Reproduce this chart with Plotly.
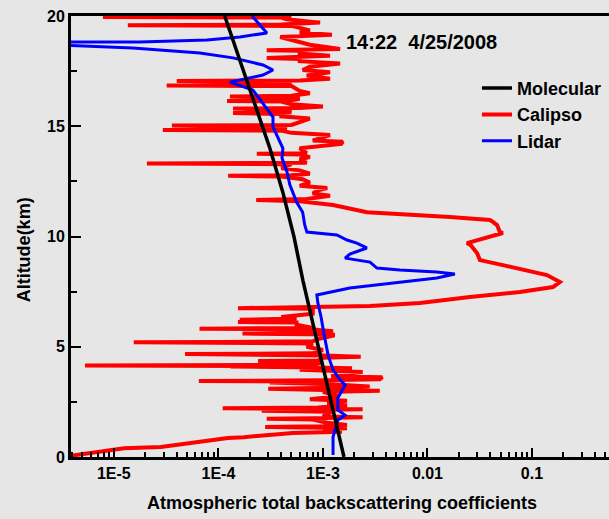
import plotly.graph_objects as go

# ---------------- data ----------------
# Molecular backscatter (km, coefficient)
mol_alt = [0, 2, 4, 6, 8, 10, 12, 14, 16, 18, 20]
mol_val = [1.59e-3, 1.27e-3, 1.02e-3, 8.2e-4, 6.44e-4, 5.28e-4, 4.14e-4, 3.11e-4, 2.24e-4, 1.61e-4, 1.15e-4]

# Lidar
lid_alt = [0.09, 0.91, 1.68, 1.9, 2.13, 2.68, 3.27, 3.5, 3.95, 4.63, 5.62, 6.35, 6.98, 7.35,
           7.66, 7.94, 8.12, 8.3, 8.39, 8.48, 8.57, 8.84, 9.02, 9.2, 9.48, 9.7, 9.84, 10.07,
           10.2, 10.52, 11.1, 11.56, 12.34, 12.93, 13.56, 14.0, 14.29, 14.97, 15.42, 16.05,
           16.64, 17.0, 17.32, 17.55, 17.78, 18.1, 18.32, 18.55, 18.68, 18.82, 18.82, 18.91,
           19.05, 19.23, 20.0]
lid_val = [1.25e-3, 1.25e-3, 1.39e-3, 1.63e-3, 1.39e-3, 1.39e-3, 1.63e-3, 1.46e-3, 1.25e-3,
           1.12e-3, 1.02e-3, 9.6e-4, 8.95e-4, 8.75e-4,
           1.81e-3, 5.45e-3, 1.23e-2, 1.83e-2, 1.23e-2, 5.45e-3, 3.29e-3, 2.82e-3, 1.63e-3,
           1.81e-3, 2.63e-3, 2.11e-3, 1.70e-3, 1.36e-3,
           7.03e-4, 6.7e-4, 6.4e-4, 5.6e-4, 4.83e-4, 4.53e-4, 4.06e-4, 4.14e-4, 3.88e-4,
           3.33e-4, 3.33e-4, 2.67e-4, 2.14e-4, 1.29e-4, 2.67e-4, 3.33e-4, 2.67e-4, 1.38e-4,
           6.65e-5, 1.52e-5, 3.0e-6, 3.0e-6, 1.77e-5, 7.76e-5, 1.61e-4, 2.91e-4, 2.1e-4]

# Calipso (altitude km, coefficient)
cal_alt = [
    0.05, 0.2, 0.4, 0.45, 0.63, 0.77, 0.86, 0.9, 0.99, 1.09, 1.15,
    1.25, 1.30, 1.33, 1.36, 1.39, 1.45, 1.55, 1.70, 1.73, 1.76, 1.80, 1.84,
    2.05, 2.10, 2.13, 2.16, 2.19, 2.21, 2.24, 2.35, 2.45, 2.55, 2.62, 2.75,
    2.95, 3.00, 3.03, 3.05, 3.10, 3.13, 3.20, 3.30, 3.38, 3.42, 3.45, 3.48,
    3.52, 3.62, 3.66, 3.75, 3.85, 3.92, 3.96, 4.02, 4.06, 4.10, 4.12, 4.15,
    4.18, 4.30, 4.35, 4.38, 4.50, 4.55, 4.60, 4.67, 4.70, 4.85, 5.00, 5.15,
    5.19, 5.20, 5.22, 5.25, 5.35, 5.50, 5.55, 5.60, 5.63, 5.70, 5.78, 5.82,
    5.85, 6.00, 6.10, 6.12, 6.17, 6.22, 6.28, 6.35, 6.50, 6.72, 6.75, 6.80,
    6.85, 6.98, 7.26, 7.48, 7.71, 7.94, 8.25, 8.70, 8.93, 9.25, 9.60, 9.70,
    9.93, 10.16, 10.20, 10.52, 10.66, 10.75, 10.88, 10.93, 10.97, 11.10, 11.43,
    11.56, 11.60, 11.65, 11.70, 11.85, 11.95, 12.10, 12.20, 12.30, 12.45, 12.60,
    12.72, 12.75, 12.78, 12.85, 13.00, 13.10, 13.28, 13.31, 13.34, 13.50, 13.60,
    13.72, 13.75, 13.78, 13.85, 14.00, 14.20, 14.30, 14.35, 14.50, 14.60, 14.70,
    14.80, 14.83, 14.86, 14.95, 15.03, 15.06, 15.20, 15.35, 15.45, 15.55, 15.60,
    15.63, 15.75, 15.80, 15.83, 15.90, 16.00, 16.12, 16.15, 16.18, 16.25, 16.32,
    16.35, 16.38, 16.50, 16.60, 16.82, 16.85, 16.88, 16.98, 17.05, 17.08, 17.15,
    17.30, 17.45, 17.55, 17.70, 17.85, 17.95, 18.05, 18.10, 18.13, 18.20, 18.30,
    18.42, 18.45, 18.48, 18.50, 18.70, 18.90, 19.05, 19.15, 19.25, 19.35, 19.55,
    19.58, 19.61, 19.70, 19.85, 19.93, 19.96, 19.99, 20.0]
cal_val = [
    3.8e-6, 6.0e-6, 1.25e-5, 2.82e-5, 5.46e-5, 8.47e-5, 1.23e-4, 1.75e-4, 2.72e-4, 5.16e-4, 1.52e-3,
    1.0e-3, 1.7e-3, 1.1e-3, 2.8e-4, 1.0e-3, 1.7e-3, 1.1e-3, 8.0e-4, 2.9e-4, 8.0e-4, 2.4e-3, 1.0e-3,
    1.2e-3, 2.6e-4, 1.0e-3, 2.4e-3, 9.0e-4, 1.1e-4, 9.0e-4, 1.7e-3, 1.1e-3, 1.7e-3, 7.5e-4, 1.4e-3,
    1.0e-3, 3.5e-3, 1.3e-3, 7.5e-4, 3.0e-4, 9.0e-4, 2.8e-3, 1.2e-3, 3.1e-4, 1.0e-3, 6.5e-5, 1.0e-3,
    3.5e-3, 3.7e-3, 1.2e-3, 1.5e-3, 2.4e-3, 1.0e-3, 6.0e-4, 1.9e-3, 9.0e-4, 1.3e-4, 6.0e-4, 5.3e-6,
    8.0e-4, 1.0e-3, 2.4e-4, 9.0e-4, 1.0e-3, 2.3e-3, 1.0e-3, 4.8e-5, 8.0e-4, 1.0e-3, 7.0e-4, 8.0e-4,
    9.9e-5, 1.55e-5, 1.0e-4, 8.0e-4, 9.0e-4, 1.25e-3, 1.25e-3, 1.7e-4, 1.0e-3, 1.25e-3, 8.0e-4, 6.6e-5,
    8.0e-4, 5.6e-4, 5.6e-4, 1.54e-4, 5.6e-4, 1.6e-4, 5.6e-4, 4.0e-4, 8.0e-4, 8.0e-4, 1.54e-4, 1.0e-3,
    2.82e-3, 8.48e-3, 2.55e-2, 7.67e-2, 1.59e-1, 1.85e-1, 1.39e-1, 5.27e-2, 3.18e-2, 2.98e-2, 2.6e-2, 2.39e-2,
    3.71e-2, 5.27e-2, 4.94e-2, 4.63e-2, 4.23e-2, 3.96e-2, 1.64e-2, 1.06e-2, 6.8e-3, 2.64e-3, 1.25e-3,
    6.0e-4, 6.0e-4, 2.3e-4, 7.0e-4, 1.17e-3, 8.0e-4, 9.0e-4, 1.1e-3, 6.0e-4, 7.5e-4, 6.4e-4,
    4.0e-4, 1.24e-4, 5.0e-4, 7.5e-4, 6.0e-4, 4.0e-4, 5.0e-4, 2.07e-5, 7.0e-4, 6.0e-4, 7.5e-4,
    6.0e-4, 2.33e-4, 7.0e-4, 6.7e-4, 6.0e-4, 1.5e-3, 1.55e-3, 8.0e-4, 1.0e-3, 1.17e-3, 5.0e-4,
    4.0e-4, 2.94e-5, 4.5e-4, 4.0e-4, 3.59e-5, 5.0e-4, 6.0e-4, 7.5e-4, 4.0e-4, 4.0e-4, 1.38e-4,
    5.0e-4, 4.0e-4, 1.38e-4, 6.0e-4, 1.0e-3, 5.0e-4, 4.0e-4, 1.21e-4, 5.0e-4, 6.0e-4, 4.0e-4,
    1.29e-4, 5.0e-4, 7.5e-4, 6.0e-4, 5.0e-4, 3.2e-5, 4.0e-4, 5.0e-4, 4.0e-5, 6.0e-4, 1.17e-3,
    7.0e-4, 1.17e-3, 6.4e-4, 7.5e-4, 1.46e-3, 6.0e-4, 6.0e-4, 2.9e-4, 6.0e-4, 1.17e-3, 6.0e-4,
    6.0e-4, 2.9e-4, 6.0e-4, 1.46e-3, 7.5e-4, 5.0e-4, 3.9e-4, 1.22e-3, 6.0e-4, 7.5e-4, 5.0e-4,
    1.36e-5, 4.0e-4, 9.4e-4, 4.5e-4, 4.0e-4, 7.85e-6, 4.0e-4, 5.0e-4]

x_tickvals = [1e-5, 1e-4, 1e-3, 1e-2, 1e-1]
x_ticktext = ["1E-5", "1E-4", "1E-3", "0.01", "0.1"]
y_tickvals = [0, 5, 10, 15, 20]

title_text = "14:22  4/25/2008"
x_title = "Atmospheric total backscattering coefficients"
y_title = "Altitude(km)"

# ---------------- figure ----------------
FONT = "Liberation Sans, Arial, sans-serif"
BG = "#e6e6e6"

fig = go.Figure()
fig.add_trace(go.Scatter(x=cal_val, y=cal_alt, mode="lines", name="Calipso",
                         line=dict(color="#ff0000", width=4), legendrank=2))
fig.add_trace(go.Scatter(x=lid_val, y=lid_alt, mode="lines", name="Lidar",
                         line=dict(color="#0000ff", width=3), legendrank=3))
fig.add_trace(go.Scatter(x=mol_val, y=mol_alt, mode="lines", name="Molecular",
                         line=dict(color="#000000", width=3.5), legendrank=1))

fig.update_layout(
    width=609, height=519,
    margin=dict(l=71, r=0, t=16, b=62),
    paper_bgcolor=BG, plot_bgcolor=BG,
    font=dict(family=FONT, color="black"),
    showlegend=True,
    legend=dict(x=0.7546, y=0.878, xanchor="left", yanchor="top",
                bgcolor="rgba(0,0,0,0)", traceorder="normal",
                font=dict(size=18, family=FONT, weight="bold"),
                itemwidth=30, tracegroupgap=0),
)

fig.update_xaxes(
    type="log", range=[-5.41, -0.263],
    tickvals=x_tickvals, ticktext=x_ticktext,
    ticks="inside", ticklen=9, tickwidth=2, tickcolor="black",
    minor=dict(dtick="D1", ticks="inside", ticklen=5, tickwidth=2, tickcolor="black", showgrid=False),
    showline=True, linewidth=3, linecolor="black", mirror=True,
    showgrid=False, zeroline=False, automargin=False,
    tickfont=dict(size=16, family=FONT, weight="bold"),
)
fig.update_yaxes(
    range=[0, 20], tickvals=y_tickvals,
    ticks="inside", ticklen=10, tickwidth=2, tickcolor="black",
    minor=dict(dtick=2.5, ticks="inside", ticklen=6, tickwidth=2, tickcolor="black", showgrid=False),
    showline=True, linewidth=3, linecolor="black", mirror=False,
    showgrid=False, zeroline=False, automargin=False,
    tickfont=dict(size=16, family=FONT, weight="bold"),
)

fig.add_annotation(text=title_text, xref="paper", yref="paper",
                   x=0.652, y=0.941, showarrow=False, xanchor="center", yanchor="middle",
                   font=dict(size=20, family=FONT, weight="bold"))
fig.add_annotation(text=x_title, xref="paper", yref="paper",
                   x=0.504, y=-0.105, showarrow=False, xanchor="center", yanchor="middle",
                   font=dict(size=18, family=FONT, weight="bold"))
fig.add_annotation(text=y_title, xref="paper", yref="paper", textangle=-90,
                   x=-0.087, y=0.469, showarrow=False, xanchor="center", yanchor="middle",
                   font=dict(size=18, family=FONT, weight="bold"))

fig.write_html("out.html", config={"displayModeBar": False},
               post_script="document.body.style.margin='0px';")
